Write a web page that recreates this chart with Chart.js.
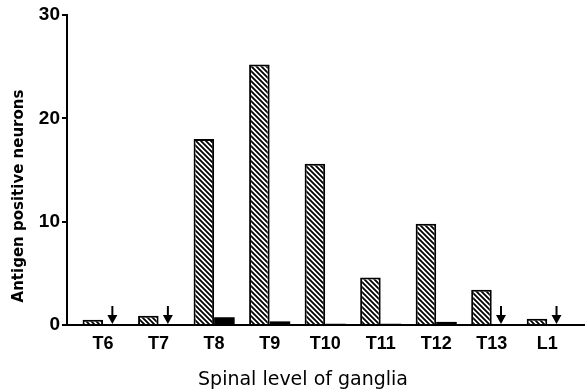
<!DOCTYPE html>
<html>
<head>
<meta charset="utf-8">
<script src="https://cdn.jsdelivr.net/npm/chart.js@4/dist/chart.umd.min.js"></script>
<style>
  html, body { margin: 0; padding: 0; background: #fff; }
  #wrap { width: 585px; height: 389px; }
</style>
</head>
<body>
<div id="wrap"><canvas id="chart"></canvas></div>
<script>
// Data
const levels = ['T6', 'T7', 'T8', 'T9', 'T10', 'T11', 'T12', 'T13', 'L1'];
const hatchedCounts = [0.5, 0.9, 18.0, 25.2, 15.6, 4.6, 9.8, 3.4, 0.6];
const solidCounts = [0, 0, 0.75, 0.35, 0.12, 0.12, 0.3, 0, 0];
const arrowLevels = ['T6', 'T7', 'T13', 'L1'];
const yTicks = [0, 10, 20, 30];
const xTitle = 'Spinal level of ganglia';
const yTitle = 'Antigen positive neurons';

const TICK_FONT = '"Liberation Sans", Arial, sans-serif';
const TITLE_FONT = '"DejaVu Sans", sans-serif';

// diagonal hatch pattern, lines running top-left to bottom-right
function makeHatch() {
    const c = document.createElement('canvas');
    c.width = 5; c.height = 5;
    const g = c.getContext('2d');
    g.fillStyle = '#fff';
    g.fillRect(0, 0, 5, 5);
    g.strokeStyle = '#000';
    g.lineWidth = 1.8;
    g.beginPath();
    g.moveTo(-1, -1); g.lineTo(6, 6);
    g.moveTo(-1, 4); g.lineTo(1, 6);
    g.moveTo(4, -1); g.lineTo(6, 1);
    g.stroke();
    return g.createPattern(c, 'repeat');
}

// down arrows where the second series is zero
const arrowPlugin = {
    id: 'arrows',
    afterDatasetsDraw(chart) {
        const meta = chart.getDatasetMeta(1);
        const base = chart.scales.y.getPixelForValue(0);
        const ctx = chart.ctx;
        ctx.save();
        ctx.strokeStyle = '#000';
        ctx.fillStyle = '#000';
        ctx.lineWidth = 2;
        arrowLevels.forEach(lv => {
            const i = levels.indexOf(lv);
            const x = meta.data[i].x - 1;
            ctx.beginPath();
            ctx.moveTo(x, base - 19);
            ctx.lineTo(x, base - 8);
            ctx.stroke();
            ctx.beginPath();
            ctx.moveTo(x - 5, base - 10);
            ctx.lineTo(x + 5, base - 10);
            ctx.lineTo(x, base - 1);
            ctx.closePath();
            ctx.fill();
        });
        ctx.restore();
    }
};

// axis titles, placed like the printed figure (not centred on the axes)
const titlePlugin = {
    id: 'axisTitles',
    afterDraw(chart) {
        const ctx = chart.ctx;
        ctx.save();
        ctx.fillStyle = '#000';
        ctx.font = '19px ' + TITLE_FONT;
        ctx.textAlign = 'center';
        ctx.textBaseline = 'alphabetic';
        ctx.fillText(xTitle, 303, 385);
        ctx.translate(19, 196);
        ctx.rotate(-Math.PI / 2);
        ctx.font = 'bold 15px ' + TITLE_FONT;
        ctx.textBaseline = 'middle';
        ctx.fillText(yTitle, 0, 0);
        ctx.restore();
    }
};

new Chart(document.getElementById('chart'), {
    type: 'bar',
    data: {
        datasets: [{
            data: hatchedCounts.map((v, i) => ({ x: i, y: v })),
            backgroundColor: makeHatch(),
            borderColor: '#000',
            borderWidth: 2,
            borderSkipped: 'bottom'
        }, {
            data: solidCounts.map((v, i) => ({ x: i, y: v })),
            backgroundColor: '#000',
            borderWidth: 0
        }]
    },
    options: {
        responsive: true,
        maintainAspectRatio: false,
        animation: false,
        layout: { padding: { top: 15, right: 0, left: 0, bottom: 0 } },
        datasets: { bar: { categoryPercentage: 0.74, barPercentage: 1.0 } },
        plugins: { legend: { display: false }, tooltip: { enabled: false } },
        scales: {
            x: {
                type: 'linear',
                min: -0.65,
                max: 8.68,
                offset: false,
                grid: { display: false, drawTicks: false },
                border: { color: '#000', width: 2 },
                afterBuildTicks(scale) { scale.ticks = levels.map((l, i) => ({ value: i })); },
                ticks: {
                    color: '#000',
                    padding: 8,
                    autoSkip: false,
                    maxRotation: 0,
                    callback: v => levels[v],
                    font: { family: TICK_FONT, size: 18, weight: 'bold' }
                },
                afterFit(scale) { scale.height = 64; }
            },
            y: {
                min: 0, max: 30,
                grid: { display: true, drawOnChartArea: false, drawTicks: true, tickLength: 5, color: '#000', lineWidth: 2 },
                border: { color: '#000', width: 2 },
                afterBuildTicks(scale) { scale.ticks = yTicks.map(v => ({ value: v })); },
                ticks: { color: '#000', padding: 2, font: { family: TICK_FONT, size: 19, weight: 'bold' } },
                afterFit(scale) { scale.width = 67; }
            }
        }
    },
    plugins: [arrowPlugin, titlePlugin]
});
</script>
</body>
</html>
